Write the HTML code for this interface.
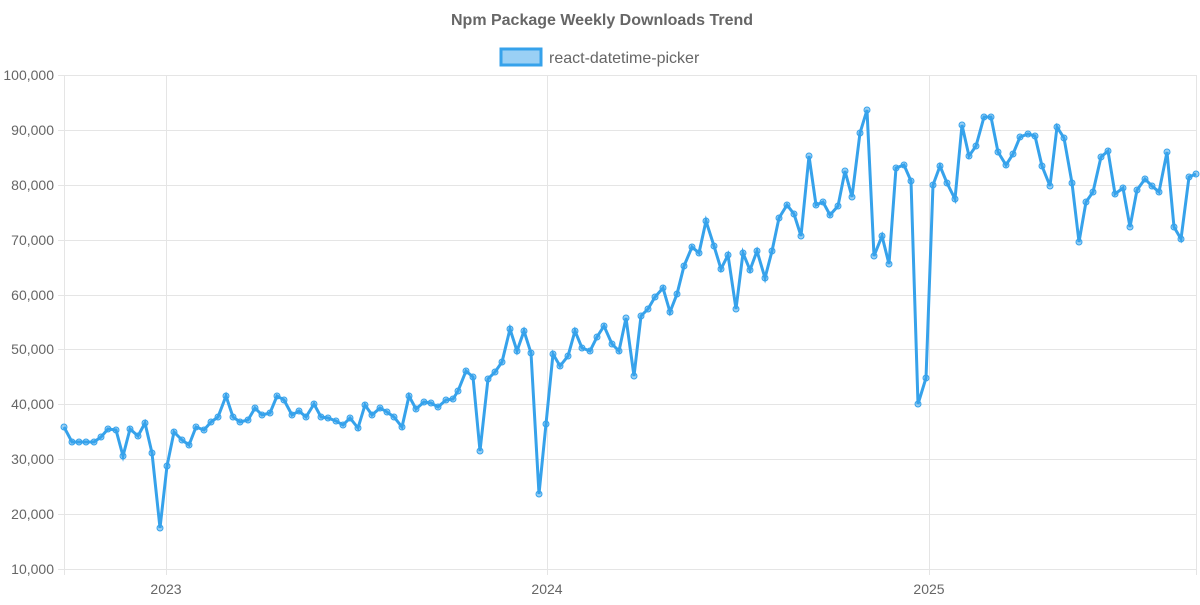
<!DOCTYPE html>
<html><head><meta charset="utf-8"><style>
body{margin:0;background:#fff;}
svg text{font-family:"Liberation Sans",Arial,sans-serif;fill:#666;}
</style></head><body>
<svg width="1200" height="600" xmlns="http://www.w3.org/2000/svg">
<text x="602" y="25" font-size="16" font-weight="bold" text-anchor="middle">Npm Package Weekly Downloads Trend</text>
<rect x="501" y="49" width="40" height="16" fill="rgba(54,162,235,0.5)" stroke="#36a2eb" stroke-width="3"/>
<text x="549" y="63" font-size="16">react-datetime-picker</text>
<g stroke="#e5e5e5" stroke-width="1">
<line x1="58" y1="75.5" x2="1197" y2="75.5"/><line x1="58" y1="130.5" x2="1197" y2="130.5"/><line x1="58" y1="185.5" x2="1197" y2="185.5"/><line x1="58" y1="240.5" x2="1197" y2="240.5"/><line x1="58" y1="295.5" x2="1197" y2="295.5"/><line x1="58" y1="349.5" x2="1197" y2="349.5"/><line x1="58" y1="404.5" x2="1197" y2="404.5"/><line x1="58" y1="459.5" x2="1197" y2="459.5"/><line x1="58" y1="514.5" x2="1197" y2="514.5"/><line x1="58" y1="569.5" x2="1197" y2="569.5"/>
<line x1="64.5" y1="75" x2="64.5" y2="575"/><line x1="166.5" y1="75" x2="166.5" y2="575"/><line x1="547.5" y1="75" x2="547.5" y2="575"/><line x1="929.5" y1="75" x2="929.5" y2="575"/><line x1="1196.5" y1="75" x2="1196.5" y2="575"/>
</g>
<g font-size="14" text-anchor="end">
<text x="54" y="80">100,000</text><text x="54" y="135">90,000</text><text x="54" y="190">80,000</text><text x="54" y="245">70,000</text><text x="54" y="300">60,000</text><text x="54" y="354">50,000</text><text x="54" y="409">40,000</text><text x="54" y="464">30,000</text><text x="54" y="519">20,000</text><text x="54" y="574">10,000</text>
</g>
<g font-size="14" text-anchor="middle">
<text x="166" y="594">2023</text><text x="547" y="594">2024</text><text x="929" y="594">2025</text>
</g>
<polyline id="p" fill="none" stroke="#36a2eb" stroke-width="3" stroke-linejoin="miter" points="64,427 72,442 79,442 86,442 94,442 101,437 108,429 116,430 123,456 130,429 138,436 145,423 152,453 160,528 167,466 174,432 182,440 189,445 196,427 204,430 211,422 218,417 226,396 233,417 240,422 248,420 255,408 262,415 270,413 277,396 284,400 292,415 299,411 306,417 314,404 321,417 328,418 336,421 343,425 350,418 358,428 365,405 372,415 380,408 387,412 394,417 402,427 409,396 416,409 424,402 431,403 438,407 446,400 453,399 458,391 466,371 473,377 480,451 488,379 495,372 502,362 510,329 517,351 524,331 531,353 539,494 546,424 553,354 560,366 568,356 575,331 582,348 590,351 597,337 604,326 612,344 619,351 626,318 634,376 641,316 648,309 655,297 663,288 670,312 677,294 684,266 692,247 699,253 706,221 714,246 721,269 728,255 736,309 743,253 750,270 757,251 765,278 772,251 779,218 787,205 794,214 801,236 809,156 816,205 823,202 830,215 838,206 845,171 852,197 860,133 867,110 874,256 882,236 889,264 896,168 904,165 911,181 918,404 926,378 933,185 940,166 947,183 955,199 962,125 969,156 976,146 984,117 991,117 998,152 1006,165 1013,154 1020,137 1028,134 1035,136 1042,166 1050,186 1057,127 1064,138 1072,183 1079,242 1086,202 1093,192 1101,157 1108,151 1115,194 1123,188 1130,227 1137,190 1145,179 1152,186 1159,192 1167,152 1174,227 1181,239 1189,177 1196,174"/>
<g id="dots" fill="rgba(54,162,235,0.5)" stroke="#36a2eb" stroke-width="1"></g>
<script>
var pts=document.getElementById('p').getAttribute('points').trim().split(/\s+/);var g=document.getElementById('dots');
pts.forEach(function(s){var a=s.split(',');var c=document.createElementNS('http://www.w3.org/2000/svg','circle');c.setAttribute('cx',a[0]);c.setAttribute('cy',a[1]);c.setAttribute('r','3');g.appendChild(c);});
</script>
</svg>
</body></html>
